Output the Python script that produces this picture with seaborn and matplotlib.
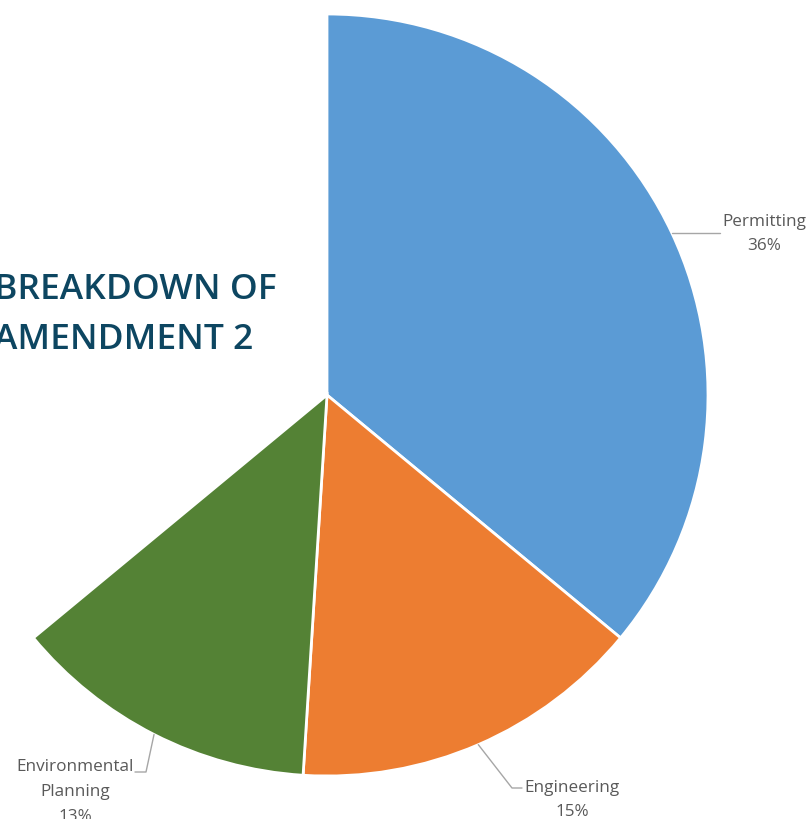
import numpy as np
import matplotlib.pyplot as plt
import seaborn as sns

# slice data (the rest of the circle is left empty in the original)
categories = ['Permitting', 'Engineering', 'Environmental\nPlanning']
shares = [0.36, 0.15, 0.13]
colors = ['#5B9BD5', '#ED7D31', '#548235']

sns.set_theme(style='white')
plt.rcParams['font.family'] = ['Open Sans', 'DejaVu Sans']

W, H = 807, 820
fig = plt.figure(figsize=(W / 100, H / 100), dpi=100)
ax = fig.add_axes([0, 0, 1, 1])

cx, cy, r = 327, H - 396, 381
wedges, _ = ax.pie(shares, colors=colors, startangle=90, counterclock=False,
                   normalize=False, center=(cx, cy), radius=r, frame=True,
                   wedgeprops=dict(edgecolor='white', linewidth=2))
ax.set_xlim(0, W)
ax.set_ylim(0, H)
ax.axis('off')

# label layout: text position and leader elbow points
label_pos = [
    dict(tx=764, ty=H - 234, elbow=[(720, None)]),
    dict(tx=572, ty=H - 800, elbow=[(512, H - 789), (522, H - 789)]),
    dict(tx=75, ty=H - 792, elbow=[(146, H - 773), (135, H - 773)]),
]

for w, cat, val, lp in zip(wedges, categories, shares, label_pos):
    mid = np.deg2rad((w.theta1 + w.theta2) / 2)
    x0, y0 = cx + r * np.cos(mid), cy + r * np.sin(mid)
    xs, ys = [x0], [y0]
    for px, py in lp['elbow']:
        xs.append(px)
        ys.append(y0 if py is None else py)
    ax.plot(xs, ys, color='#A6A6A6', linewidth=1)
    ax.text(lp['tx'], lp['ty'], f'{cat}\n{val:.0%}', ha='center', va='center',
            fontsize=12.3, color='#595959', linespacing=1.72)

ax.text(-6, H - 315, 'BREAKDOWN OF\nAMENDMENT 2', ha='left', va='center',
        fontsize=25.5, fontweight='semibold', color='#0D4661', linespacing=1.6)

fig.savefig('out.png', dpi=100)
